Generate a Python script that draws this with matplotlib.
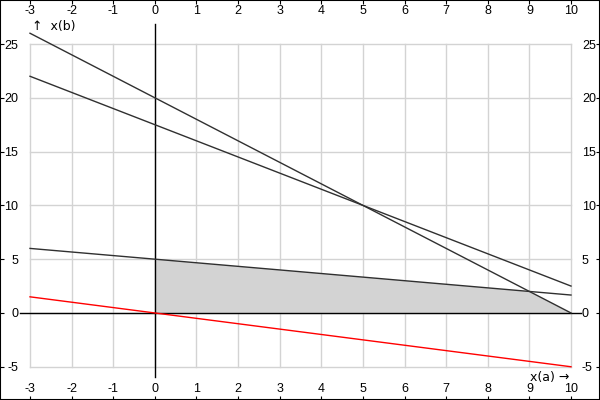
import numpy as np
import matplotlib
matplotlib.use('Agg')
import matplotlib.pyplot as plt

plt.rcParams['font.family'] = ['Liberation Sans', 'DejaVu Sans']
plt.rcParams['axes.unicode_minus'] = False

# constraint lines y = b + m*x
x_range = [-3, 10]
lines_b = [20, 17.5, 5]
lines_m = [-2, -1.5, -1 / 3]
obj_b, obj_m = 0, -0.5

# feasible region corners
region_x = [0, 0, 9, 10]
region_y = [0, 5, 2, 0]

x_ticks = list(range(-3, 11))
y_ticks = list(range(-5, 26, 5))

fig = plt.figure(figsize=(6, 4), dpi=100)
ax = fig.add_axes([0, 0, 1, 1])
ax.set_xlim(-3.721, 10.697)
ax.set_ylim(-8.09, 29.09)

# grid only inside data range
for xv in x_ticks:
    ax.plot([xv, xv], [-5, 25], color='#d3d3d3', lw=1, zorder=1)
for yv in y_ticks:
    ax.plot([-3, 10], [yv, yv], color='#d3d3d3', lw=1, zorder=1)

ax.fill(region_x, region_y, color='#d3d3d3', lw=0, zorder=2)

# axes through origin
ax.plot([0, 0], [-5.95, 26.86], color='black', lw=1, zorder=3)
ax.plot([-3.24, 10.24], [0, 0], color='black', lw=1, zorder=3)

xs = np.array(x_range)
for b, m in zip(lines_b, lines_m):
    ax.plot(xs, b + m * xs, color='#303030', lw=1, zorder=4)
ax.plot(xs, obj_b + obj_m * xs, color='red', lw=1, zorder=4)

ax.text(-2.95, 26.0, '↑  x(b)', fontsize=9, ha='left', va='bottom',
        family=['DejaVu Sans'])
ax.text(9.95, -5.4, 'x(a) →', fontsize=9, ha='right', va='top',
        family=['DejaVu Sans'])

ax.set_xticks(x_ticks)
ax.set_yticks(y_ticks)
ax.tick_params(axis='x', which='both', top=True, bottom=True, labeltop=True,
               labelbottom=True, direction='in', length=3, pad=-12, labelsize=9)
ax.tick_params(axis='y', which='both', left=True, right=True, labelleft=True,
               labelright=True, direction='in', length=3, pad=-13, labelsize=9)
for sp in ax.spines.values():
    sp.set_linewidth(1.5)
    sp.set_color('black')

fig.savefig('out.png', dpi=100)
